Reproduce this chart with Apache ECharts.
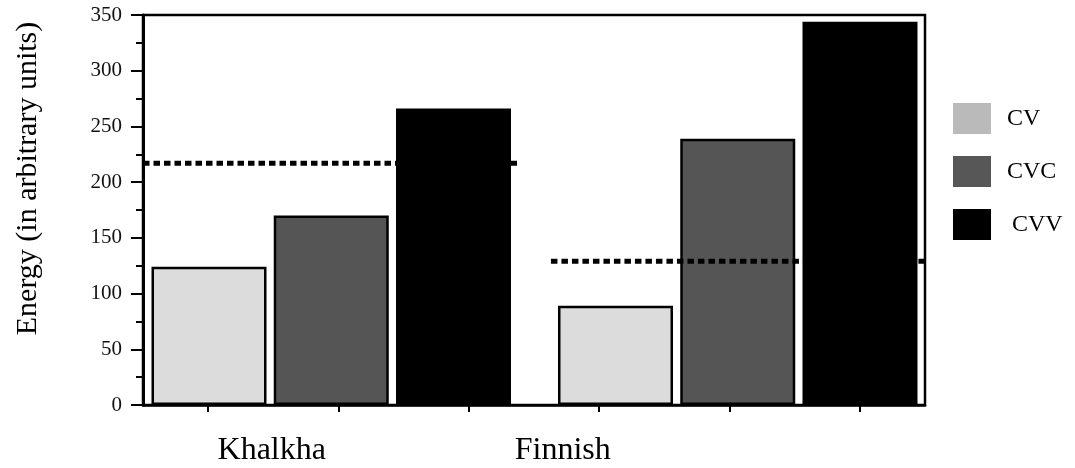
<!DOCTYPE html>
<html><head><meta charset="utf-8">
<script src="https://cdn.jsdelivr.net/npm/echarts@6/dist/echarts.min.js"></script>
<style>html,body{margin:0;padding:0;background:#fff}#c{width:1075px;height:468px}</style>
</head><body><div id="c"></div>
<script>
// ---- data ----
const languages = ['Khalkha', 'Finnish'];
const seriesNames = ['CV', 'CVC', 'CVV'];
const cvValues = [124, 89];
const cvcValues = [170, 239];
const cvvValues = [266, 344];
const meanValues = [217, 129];          // dotted reference lines
const meanSpans = [[0, 2.87], [3.13, 6]]; // extent of each dotted line, in tick slots
const tickSlots = ['', '', '', '', '', ''];
const yMin = 0, yMax = 350, yStep = 50;

// ---- styles ----
const FONT = '"Liberation Serif", "DejaVu Serif", serif';
const barFill = ['#dcdcdc', '#555555', '#000000'];
const legendFill = ['#bababa', '#575757', '#000000'];
const legendTextPad = [11, 11, 16];
const values = [cvValues, cvcValues, cvvValues];

const chart = echarts.init(document.getElementById('c'), null, {renderer: 'canvas'});

const barSeries = seriesNames.map((n, i) => ({
  name: n,
  type: 'bar',
  xAxisIndex: 1,
  yAxisIndex: 1,
  data: values[i],
  barWidth: 115,
  barGap: '6.3%',
  itemStyle: {color: barFill[i], borderColor: '#000', borderWidth: 2.5},
  emphasis: {disabled: true}
}));

const meanSeries = meanValues.map((v, i) => ({
  name: 'mean' + i,
  type: 'line',
  xAxisIndex: 2,
  yAxisIndex: 0,
  data: [[meanSpans[i][0], v], [meanSpans[i][1], v]],
  symbol: 'none',
  z: 10,
  silent: true,
  lineStyle: {color: '#000', width: 5, type: [6.5, 4], cap: 'butt'}
}));

chart.setOption({
  animation: false,
  backgroundColor: '#fff',
  textStyle: {fontFamily: FONT, color: '#000'},
  grid: [
    {left: 143, right: 150, top: 15, bottom: 63, show: true, borderColor: '#000', borderWidth: 2.5, backgroundColor: 'transparent'},
    {left: 128, right: 134, top: 15, bottom: 63}
  ],
  legend: {
    orient: 'vertical',
    left: 948,
    top: 98,
    itemWidth: 38,
    itemHeight: 31,
    itemGap: 22,
    icon: 'rect',
    selectedMode: false,
    textStyle: {fontFamily: FONT, fontSize: 24, color: '#000'},
    data: seriesNames.map((n, i) => ({
      name: n,
      itemStyle: {color: legendFill[i], borderWidth: 0},
      textStyle: {fontFamily: FONT, fontSize: 24, color: '#000', padding: [6, 0, 0, legendTextPad[i]]}
    }))
  },
  xAxis: [
    { // tick axis on the frame
      type: 'category',
      gridIndex: 0,
      data: tickSlots,
      boundaryGap: true,
      axisLine: {show: true, lineStyle: {color: '#000', width: 2.5}},
      axisTick: {show: true, alignWithLabel: true, length: 7, lineStyle: {color: '#000', width: 2}},
      axisLabel: {show: false},
      splitLine: {show: false}
    },
    { // bar axis
      type: 'category',
      gridIndex: 1,
      data: languages,
      axisLine: {show: false},
      axisTick: {show: false},
      axisLabel: {
        margin: 30,
        fontFamily: FONT,
        fontSize: 32,
        color: '#000',
        formatter: (v, i) => '{l' + i + '|' + v + '}',
        rich: {
          l0: {fontFamily: FONT, fontSize: 32, color: '#000', padding: [0, 119, 0, 0]},
          l1: {fontFamily: FONT, fontSize: 32, color: '#000', padding: [0, 350, 0, 0]}
        }
      },
      splitLine: {show: false}
    },
    { // value axis for dotted lines
      type: 'value',
      gridIndex: 0,
      min: 0,
      max: tickSlots.length,
      show: false
    }
  ],
  yAxis: [
    {
      type: 'value',
      gridIndex: 0,
      min: yMin,
      max: yMax,
      interval: yStep,
      name: 'Energy (in arbitrary units)',
      nameLocation: 'middle',
      nameGap: 100,
      nameTextStyle: {fontFamily: FONT, fontSize: 30, color: '#000', padding: [0, 0, 0, 63]},
      axisLine: {show: true, lineStyle: {color: '#000', width: 3}},
      axisTick: {show: true, length: 12, lineStyle: {color: '#000', width: 2}},
      minorTick: {show: true, splitNumber: 2, length: 7, lineStyle: {color: '#000', width: 2}},
      axisLabel: {margin: 21, fontFamily: FONT, fontSize: 21, color: '#111'},
      splitLine: {show: false},
      minorSplitLine: {show: false}
    },
    {
      type: 'value',
      gridIndex: 1,
      min: yMin,
      max: yMax,
      interval: yStep,
      show: false,
      splitLine: {show: false}
    }
  ],
  series: [...barSeries, ...meanSeries]
});
</script>
</body></html>
